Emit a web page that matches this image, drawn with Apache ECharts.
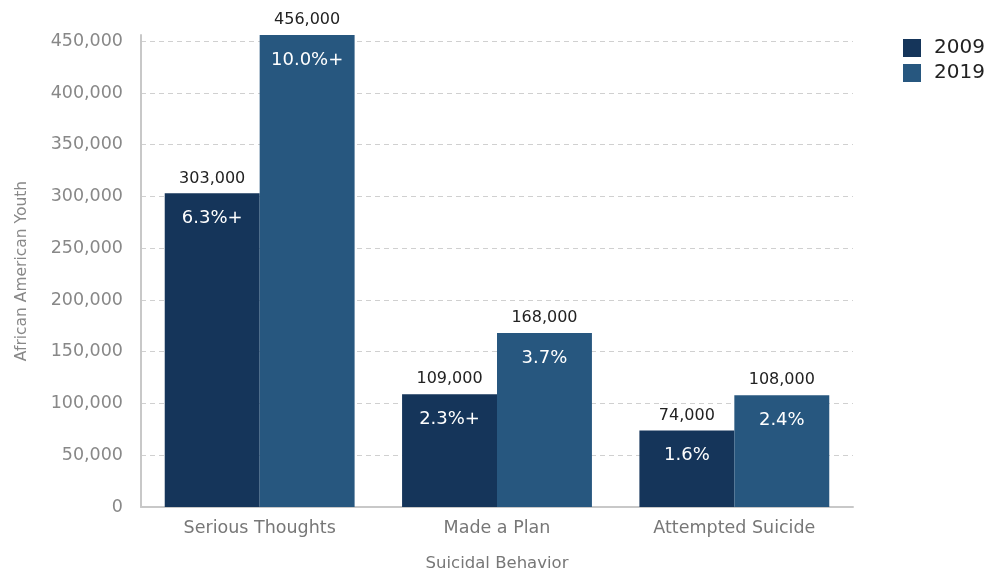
<!DOCTYPE html>
<html>
<head>
<meta charset="utf-8">
<script src="https://cdn.jsdelivr.net/npm/echarts@6/dist/echarts.min.js"></script>
<style>html,body{margin:0;padding:0;background:#fff}#c{width:990px;height:571px}</style>
</head>
<body>
<div id="c"></div>
<script>
const categories = ['Serious Thoughts', 'Made a Plan', 'Attempted Suicide'];
const seriesNames = ['2009', '2019'];
const values2009 = [303000, 109000, 74000];
const values2019 = [456000, 168000, 108000];
const pct2009 = ['6.3%+', '2.3%+', '1.6%'];
const pct2019 = ['10.0%+', '3.7%', '2.4%'];
const yTickStep = 50000;

const FONT = '"DejaVu Sans", "Noto Sans", sans-serif';
const colors = ['#15355a', '#27577f'];

const chart = echarts.init(document.getElementById('c'));
const fmt = v => Number(v).toLocaleString('en-US');

function valueSeries(name, data, color) {
  return {
    name: name, type: 'bar', xAxisIndex: 0, data: data,
    barGap: '0%', barCategoryGap: '20%',
    itemStyle: { color: color },
    label: { show: true, position: 'top', distance: 7, color: '#222', fontSize: 16, fontFamily: FONT,
      formatter: p => fmt(p.value) }
  };
}
function pctSeries(vals, pcts) {
  return {
    type: 'bar', xAxisIndex: 1, silent: true,
    data: vals.map((v, i) => ({ value: v, pct: pcts[i] })),
    barGap: '0%', barCategoryGap: '20%',
    itemStyle: { color: 'rgba(0,0,0,0)' },
    label: { show: true, position: 'insideTop', distance: 16, color: '#fff', fontSize: 18, fontFamily: FONT,
      formatter: p => p.data.pct }
  };
}

chart.setOption({
  animation: false,
  textStyle: { fontFamily: FONT },
  grid: { left: 141, right: 137, top: 35, bottom: 64, containLabel: false, outerBoundsMode: 'none' },
  legend: {
    data: seriesNames, orient: 'vertical', left: 898, top: 33,
    icon: 'rect', itemWidth: 18, itemHeight: 18, itemGap: 5,
    textStyle: { fontSize: 20, lineHeight: 20, color: '#222', fontFamily: FONT, padding: [0, 0, 0, 8] }
  },
  xAxis: [{
    type: 'category', data: categories,
    name: 'Suicidal Behavior', nameLocation: 'middle', nameGap: 48,
    nameTextStyle: { color: '#777', fontSize: 16.5, fontFamily: FONT },
    axisLine: { lineStyle: { color: '#c8c8c8', width: 2 } },
    axisTick: { show: false },
    axisLabel: { color: '#777', fontSize: 17.5, margin: 12, fontFamily: FONT }
  }, {
    type: 'category', data: categories, show: false
  }],
  yAxis: {
    type: 'value', min: 0, max: 456000, interval: yTickStep,
    name: 'African American Youth', nameLocation: 'middle', nameGap: 111, nameRotate: 90,
    nameTextStyle: { color: '#888', fontSize: 15.5, fontFamily: FONT },
    axisLine: { show: true, lineStyle: { color: '#c8c8c8', width: 2 } },
    axisTick: { show: false },
    axisLabel: { color: '#888', fontSize: 17.5, margin: 18, fontFamily: FONT, showMaxLabel: false,
      formatter: v => (v % yTickStep === 0 ? fmt(v) : '') },
    splitLine: { show: true, showMaxLine: false, lineStyle: { color: '#d0d0d0', type: [5, 4] } }
  },
  series: [
    valueSeries(seriesNames[0], values2009, colors[0]),
    valueSeries(seriesNames[1], values2019, colors[1]),
    pctSeries(values2009, pct2009),
    pctSeries(values2019, pct2019)
  ]
});
</script>
</body>
</html>
